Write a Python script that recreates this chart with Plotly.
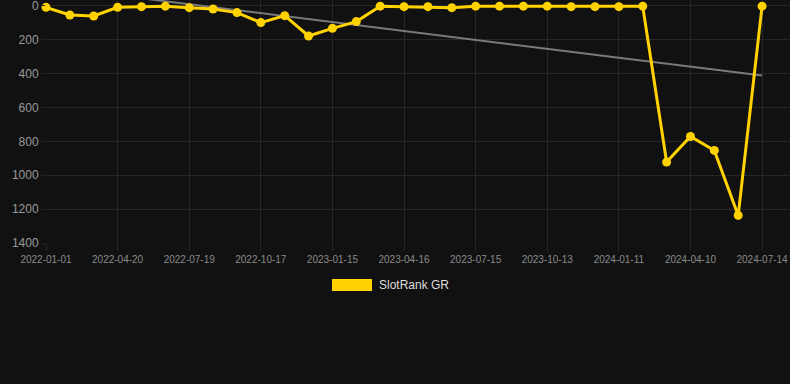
import numpy as np
import plotly.graph_objects as go

dates = [
    "2022-01-01", "2022-02-06", "2022-03-14", "2022-04-20", "2022-05-20", "2022-06-19",
    "2022-07-19", "2022-08-18", "2022-09-17", "2022-10-17", "2022-11-16", "2022-12-16",
    "2023-01-15", "2023-02-14", "2023-03-16", "2023-04-16", "2023-05-16", "2023-06-15",
    "2023-07-15", "2023-08-14", "2023-09-13", "2023-10-13", "2023-11-12", "2023-12-12",
    "2024-01-11", "2024-02-10", "2024-03-11", "2024-04-10", "2024-05-10", "2024-06-12",
    "2024-07-14",
]
rank = [8, 53, 59, 8, 4, 1, 10, 18, 39, 98, 57, 177, 132, 92, 1,
        4, 4, 10, 1, 1, 1, 1, 4, 4, 4, 1, 922, 771, 853, 1237, 1]
tick_labels = dates[::3]
y_ticks = [0, 200, 400, 600, 800, 1000, 1200, 1400]
series_name = "SlotRank GR"

YELLOW = "#FFD200"
BG = "#111111"
GRID = "#262626"

idx = np.arange(len(rank))
slope, intercept = np.polyfit(idx, rank, 1)
trend = slope * idx + intercept

fig = go.Figure()
fig.add_trace(go.Scatter(
    x=dates, y=trend, mode="lines",
    line=dict(color="#7a7a7a", width=2),
    showlegend=False, hoverinfo="skip",
))
fig.add_trace(go.Scatter(
    x=dates, y=rank, mode="lines+markers",
    line=dict(color=YELLOW, width=3),
    marker=dict(color=YELLOW, size=9),
    name=series_name, showlegend=False, cliponaxis=False,
))

fig.update_layout(
    width=790, height=384,
    paper_bgcolor=BG, plot_bgcolor=BG,
    margin=dict(l=46, r=0, t=0, b=141),
    font=dict(family="Liberation Sans, Arial, sans-serif", color="#999999"),
    xaxis=dict(
        type="category", categoryorder="array", categoryarray=dates,
        range=[0, 31.17],
        tickvals=tick_labels, ticktext=tick_labels,
        tickfont=dict(size=10, color="#8a8a8a"),
        showgrid=True, gridcolor=GRID, gridwidth=1,
        ticks="outside", ticklen=7, tickcolor=GRID,
        zeroline=False, showline=False,
        ticklabeloverflow="allow",
    ),
    yaxis=dict(
        range=[1400, -35.4],
        tickvals=y_ticks,
        tickfont=dict(size=12, color="#999999"),
        showgrid=True, gridcolor=GRID, gridwidth=1,
        ticks="outside", ticklen=4, tickcolor=GRID,
        zeroline=False, showline=False,
        ticklabeloverflow="allow",
    ),
    shapes=[dict(type="rect", xref="paper", yref="paper",
                 x0=(332 - 46) / 744, x1=(372 - 46) / 744,
                 y0=(384 - 141 - 291) / 243, y1=(384 - 141 - 279) / 243,
                 fillcolor=YELLOW, line=dict(width=0))],
    annotations=[dict(text=series_name, xref="paper", yref="paper",
                      x=(377 - 46) / 744, y=(384 - 141 - 285) / 243,
                      xanchor="left", yanchor="middle", showarrow=False,
                      font=dict(size=12, color="#dddddd"))],
)

fig.write_html(
    "out.html",
    config={"displayModeBar": False},
    post_script="document.body.style.margin='0';document.body.style.padding='0';"
                "document.body.style.background='#111111';document.body.style.overflow='hidden';",
)
